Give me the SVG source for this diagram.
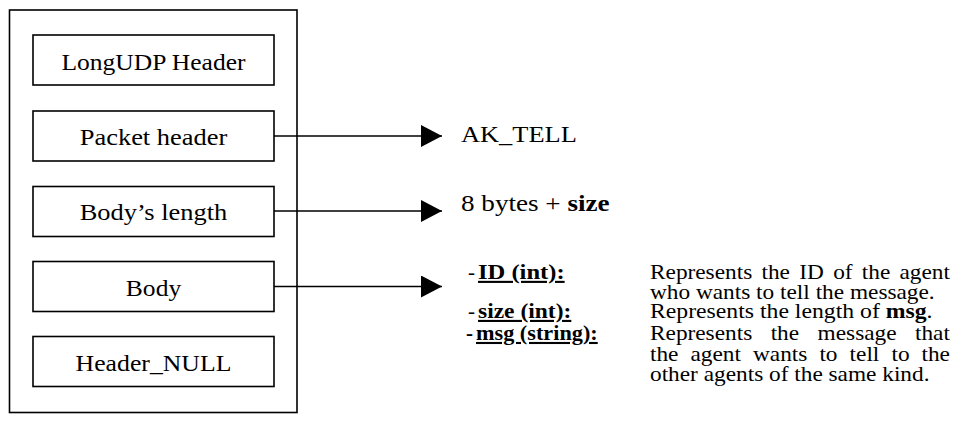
<svg xmlns="http://www.w3.org/2000/svg" width="954" height="425" viewBox="0 0 954 425">
<style>
.box{fill:#fff;stroke:#000;stroke-width:1.6}
.t{font-family:"Liberation Serif","Times New Roman",serif;fill:#000}
.bt{font-size:23px;text-anchor:middle}
.rt{font-size:24px}
.d{font-size:21px}
.b{font-weight:bold}
.u{text-decoration:underline}
.conn{stroke:#000;stroke-width:1.6;fill:none}
</style>
<defs>
<marker id="ah" markerUnits="userSpaceOnUse" markerWidth="22" markerHeight="22" refX="21" refY="11" orient="auto">
<path d="M0,0 L21,11 L0,22 Z" fill="#000"/>
</marker>
</defs>
<rect width="954" height="425" fill="#fff"/>
<g id="frame">
<rect class="box" x="9.5" y="10" width="287.5" height="402.5"/>
</g>
<g id="longudp-header">
<rect class="box" x="33" y="35" width="241" height="50"/>
<text class="t bt" transform="translate(153.5,69.5) scale(1.11,1)">LongUDP Header</text>
</g>
<g id="packet-header">
<rect class="box" x="33" y="111" width="241" height="50"/>
<text class="t bt" transform="translate(153.5,145) scale(1.15,1)">Packet header</text>
</g>
<g id="bodys-length">
<rect class="box" x="33" y="186.5" width="241" height="50"/>
<text class="t bt" transform="translate(153.5,220) scale(1.15,1)">Body’s length</text>
</g>
<g id="body">
<rect class="box" x="33" y="261.5" width="241" height="50"/>
<text class="t bt" transform="translate(153.5,295.5) scale(1.11,1)">Body</text>
</g>
<g id="header-null">
<rect class="box" x="33" y="336.5" width="241" height="50"/>
<text class="t bt" transform="translate(153.5,370.5) scale(1.12,1)">Header_NULL</text>
</g>
<g id="connectors">
<line class="conn" x1="274" y1="136" x2="442" y2="136" marker-end="url(#ah)"/>
<line class="conn" x1="274" y1="211" x2="442" y2="211" marker-end="url(#ah)"/>
<line class="conn" x1="274" y1="286.5" x2="442" y2="286.5" marker-end="url(#ah)"/>
</g>
<g id="ak-tell">
<text class="t rt" transform="translate(461,141.5) scale(1.1,1)">AK_TELL</text>
</g>
<g id="length-value">
<text class="t rt" transform="translate(461,211) scale(1.13,1)">8 bytes + <tspan class="b">size</tspan></text>
</g>
<g id="body-fields">
<text class="t d" x="468" y="279">-</text>
<text class="t d b u" transform="translate(478,279) scale(1.17,1)">ID (int):</text>
<text class="t d" x="468" y="318">-</text>
<text class="t d b u" transform="translate(478,318) scale(1.12,1)">size (int):</text>
<text class="t d b" x="466" y="340">-</text>
<text class="t d b u" transform="translate(476,340) scale(1.06,1)">msg (string):</text>

<text class="t d" transform="translate(650,279) scale(1.11,1)"><tspan x="0">Represents</tspan><tspan x="100.4">the</tspan><tspan x="134.4">ID</tspan><tspan x="165">of</tspan><tspan x="190.8">the</tspan><tspan x="224.8">agent</tspan></text>
<text class="t d" transform="translate(650,298.5) scale(1.11,1)">who wants to tell the message.</text>
<text class="t d" transform="translate(650,318) scale(1.13,1)">Represents the length of <tspan class="b">msg</tspan>.</text>
<text class="t d" transform="translate(650,340) scale(1.11,1)"><tspan x="0">Represents</tspan><tspan x="108.7">the</tspan><tspan x="151">message</tspan><tspan x="238.7">that</tspan></text>
<text class="t d" transform="translate(650,360.5) scale(1.11,1)"><tspan x="0">the</tspan><tspan x="36.5">agent</tspan><tspan x="92.8">wants</tspan><tspan x="152.6">to</tspan><tspan x="179.8">tell</tspan><tspan x="217.5">to</tspan><tspan x="244.6">the</tspan></text>
<text class="t d" transform="translate(650,381) scale(1.11,1)">other agents of the same kind.</text>
</g>
</svg>
